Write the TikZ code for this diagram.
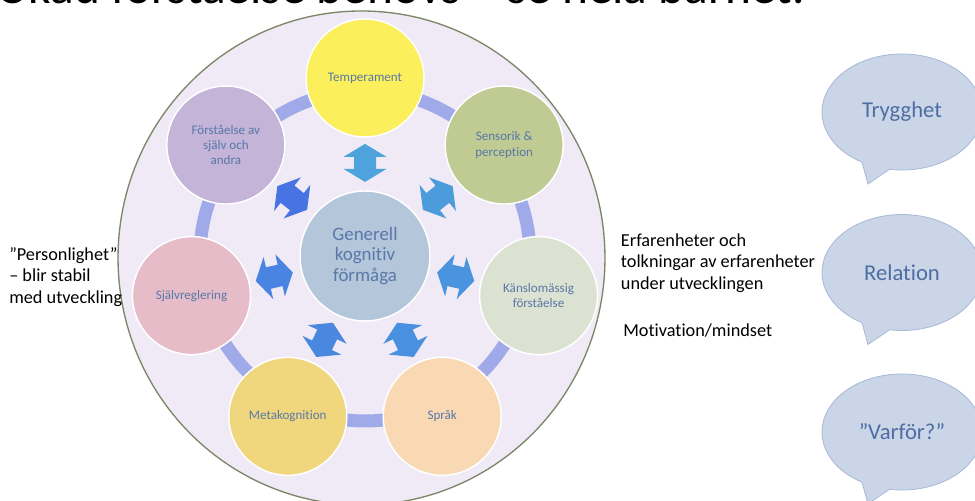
\documentclass[tikz,border=0pt]{standalone}
\usepackage{fontspec}
\setmainfont{Carlito}[RawFeature={-liga;-clig;-calt;-dlig}]
\usetikzlibrary{calc,shapes.geometric}

\definecolor{bigfill}{HTML}{EFEAF5}
\definecolor{bigline}{HTML}{7C8668}
\definecolor{ringband}{HTML}{A0AAE8}
\definecolor{labelblue}{HTML}{5A78A8}
\definecolor{gencol}{HTML}{B3C6DA}
\definecolor{tempcol}{HTML}{FBEF5B}
\definecolor{senscol}{HTML}{BFCB93}
\definecolor{kanslacol}{HTML}{DCE2D2}
\definecolor{sprakcol}{HTML}{F9D9B4}
\definecolor{metacol}{HTML}{F0D77E}
\definecolor{sjalvcol}{HTML}{E5BCC8}
\definecolor{forstcol}{HTML}{C3B4D8}
\definecolor{arr0}{HTML}{4EA3DC}
\definecolor{arr1}{HTML}{4C9BDA}
\definecolor{arr2}{HTML}{4A94DF}
\definecolor{arr3}{HTML}{4A90E0}
\definecolor{arr4}{HTML}{4A88E0}
\definecolor{arr5}{HTML}{4A84E2}
\definecolor{arr6}{HTML}{4873E3}
\definecolor{bubblefill}{HTML}{CAD5E7}
\definecolor{bubbleline}{HTML}{A7B9D5}
\definecolor{bubbletext}{HTML}{4E6EA3}

\tikzset{
  trait/.style={circle, draw=white, line width=1.1pt, minimum size=88.5pt, inner sep=0pt,
    align=center, text=labelblue, font=\fontsize{9.8}{11.5}\selectfont},
  core/.style={trait, minimum size=97.5pt, font=\fontsize{14.2}{15.4}\selectfont},
  bubble/.style={fill=bubblefill, draw=bubbleline, line width=0.6pt},
  bubbletxt/.style={text=bubbletext, font=\fontsize{17}{20}\selectfont},
  sidetext/.style={align=left, inner sep=0pt, font=\fontsize{13.7}{16.3}\selectfont}
}

\begin{document}
\begin{tikzpicture}[x=0.75pt, y=0.75pt]
\useasboundingbox (0,0) rectangle (975,500);

% title, cut off by the page
\node[anchor=base east, inner sep=0pt, font=\fontsize{37}{44}\selectfont] (title) at (805,496) {Ökad förståelse behövs – se hela barnet.};

% the whole child
\node[ellipse, draw=bigline, fill=bigfill, line width=1pt, minimum width=365.2pt, minimum height=370.5pt, inner sep=0pt] (barnet) at (361.5,242) {};

\coordinate (mid) at (365,244);
\draw[ringband, line width=9.75pt] (mid) circle (165);

\node[core, fill=gencol] (gen) at (mid) {Generell\\kognitiv\\förmåga};

\foreach \nm/\txt/\col [count=\i from 0] in {
    temp/Temperament/tempcol,
    sens/{Sensorik \&\\perception}/senscol,
    kansla/{Känslomässig\\förståelse}/kanslacol,
    sprak/Språk/sprakcol,
    meta/Metakognition/metacol,
    sjalv/Självreglering/sjalvcol,
    forst/{Förståelse av\\själv och\\andra}/forstcol} {
  \pgfmathsetmacro{\a}{90-\i*360/7}
  \node[trait, fill=\col] (\nm) at ($(mid)+(\a:178)$) {\txt};
  \coordinate (m\i) at ($(gen)!0.523!(\nm)$);
  \fill[arr\i, shift={(m\i)}, rotate=\a]
    (19,0) -- (6,21.5) -- (6,11) -- (-6,11) -- (-6,21.5) -- (-19,0)
    -- (-6,-21.5) -- (-6,-11) -- (6,-11) -- (6,-21.5) -- cycle;
}

% side texts
\node[sidetext, anchor=west] (person) at (9,223) {”Personlighet”\\– blir stabil\\med utveckling};
\node[sidetext, anchor=west] (erf) at (620.7,237) {Erfarenheter och\\tolkningar av erfarenheter\\under utvecklingen};
\node[sidetext, anchor=west] (motiv) at (623,169) {Motivation/mindset};

% speech bubbles
\foreach \nm/\y/\txt in {tryg/388/Trygghet, rel/227.5/Relation, varf/68/{”Varför?”}} {
  \coordinate (b\nm) at (902,\y);
  \draw[bubble] ($(b\nm)+(261:80 and 58)$) arc[start angle=261, end angle=600, x radius=80, y radius=58]
    -- ($(b\nm)+(-34,-72)$) -- cycle;
  \node[bubbletxt] (\nm) at (b\nm) {\txt};
}
\end{tikzpicture}
\end{document}
